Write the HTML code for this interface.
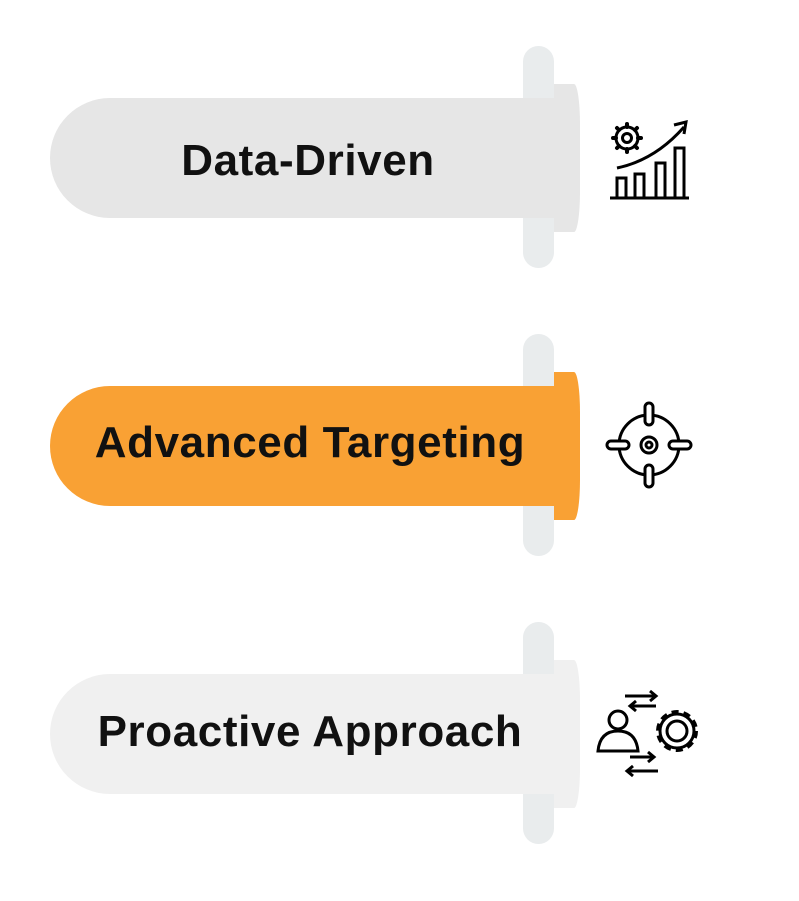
<!DOCTYPE html>
<html><head><style>
body{margin:0;width:799px;height:901px;background:#fff;position:relative;overflow:hidden;font-family:"Liberation Sans",sans-serif}
.bar{position:absolute;left:523px;width:31px;height:222px;border-radius:16px;background:#e9eced}
.flap{position:absolute;left:554px;width:26px;height:148px;border-radius:0 6px 6px 0/0 40px 40px 0}
.pill{position:absolute;left:50px;width:510px;height:120px;border-radius:60px 0 0 60px}
.t{position:absolute;left:50px;width:520px;height:120px;line-height:120px;text-align:center;font-weight:bold;font-size:44px;letter-spacing:0.6px;color:#111}
</style></head><body>
<div class="bar" style="top:46px"></div>
<div class="flap" style="top:84px;background:#e6e6e6"></div>
<div class="pill" style="top:98px;background:#e6e6e6"></div>
<div class="t" style="top:101px;left:48px">Data-Driven</div>

<div class="bar" style="top:334px"></div>
<div class="flap" style="top:372px;background:#f9a134"></div>
<div class="pill" style="top:386px;background:#f9a134"></div>
<div class="t" style="top:383px;left:50px">Advanced Targeting</div>

<div class="bar" style="top:622px"></div>
<div class="flap" style="top:660px;background:#f0f0f0"></div>
<div class="pill" style="top:674px;background:#f0f0f0"></div>
<div class="t" style="top:672px;left:50px">Proactive Approach</div>

<svg width="799" height="901" style="position:absolute;left:0;top:0" fill="none" stroke="#000" stroke-width="3">
<line x1="610" y1="198" x2="689" y2="198"/>
<rect x="617" y="178" width="9" height="20"/>
<rect x="635" y="174" width="9" height="24"/>
<rect x="656" y="163" width="9" height="35"/>
<rect x="675" y="148" width="9" height="50"/>
<path d="M617 168 Q655 160 684 127"/>
<path d="M674 125 L686 122 L684 134" />
<circle cx="627" cy="138" r="11"/><circle cx="627" cy="138" r="4.5"/>
<g stroke-width="4" stroke-linecap="round">
<line x1="627" y1="124" x2="627" y2="127"/><line x1="627" y1="149" x2="627" y2="152"/>
<line x1="613" y1="138" x2="616" y2="138"/><line x1="638" y1="138" x2="641" y2="138"/>
<line x1="617" y1="128" x2="619" y2="130"/><line x1="635" y1="146" x2="637" y2="148"/>
<line x1="637" y1="128" x2="635" y2="130"/><line x1="617" y1="148" x2="619" y2="146"/>
</g>
<circle cx="649" cy="445" r="30"/>
<circle cx="649" cy="445" r="8"/><circle cx="649" cy="445" r="3"/>
<rect x="645" y="403" width="8" height="22" rx="4" fill="#fff"/>
<rect x="645" y="465" width="8" height="22" rx="4" fill="#fff"/>
<rect x="607" y="441" width="22" height="8" rx="4" fill="#fff"/>
<rect x="669" y="441" width="22" height="8" rx="4" fill="#fff"/>
<circle cx="618" cy="720" r="9"/>
<path d="M598 751 Q600 731 618 731 Q636 731 638 751 Z"/>
<circle cx="677" cy="731" r="10"/>
<circle cx="677" cy="731" r="19" stroke-dasharray="7 5" stroke-width="4"/>
<circle cx="677" cy="731" r="17"/>
<path d="M625 696 L656 696 M650 691 L656 696 L650 701"/>
<path d="M656 706 L630 706 M636 701 L630 706 L636 711"/>
<path d="M630 757 L654 757 M648 752 L654 757 L648 762"/>
<path d="M658 771 L627 771 M633 766 L627 771 L633 776"/>
</svg>
</body></html>
